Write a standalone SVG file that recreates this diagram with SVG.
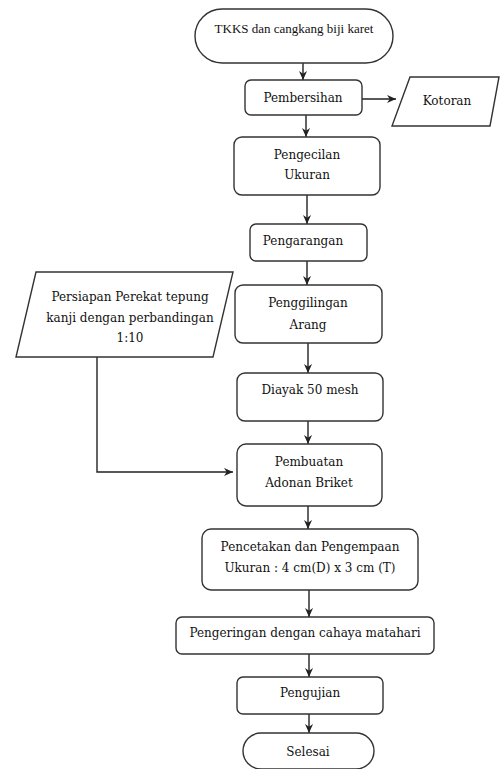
<svg xmlns="http://www.w3.org/2000/svg" width="500" height="769" viewBox="0 0 500 769">
<defs>
<marker id="ah" markerUnits="userSpaceOnUse" markerWidth="9" markerHeight="9" viewBox="0 0 10 10" refX="10" refY="5" orient="auto">
<path d="M0,0.5 L10,5 L0,9.5 L3,5 z" fill="#222"/>
</marker>
<style>
.box{fill:#fff;stroke:#333;stroke-width:1.4}
.t{font-family:"DejaVu Serif","Liberation Serif",serif;font-size:12px;fill:#111;text-anchor:middle}
.c{fill:none;stroke:#222;stroke-width:1.4;marker-end:url(#ah)}
</style>
</defs>
<rect width="500" height="769" fill="#fff"/>
<g id="connectors">
<line class="c" x1="303" y1="63" x2="303" y2="80"/>
<line class="c" x1="362" y1="99" x2="396" y2="99"/>
<line class="c" x1="306" y1="115" x2="306" y2="137"/>
<line class="c" x1="307" y1="195" x2="307" y2="224"/>
<line class="c" x1="307" y1="261" x2="307" y2="285"/>
<line class="c" x1="308" y1="343" x2="308" y2="373"/>
<line class="c" x1="308" y1="421" x2="308" y2="444"/>
<polyline class="c" points="97,357 97,472 233,472"/>
<line class="c" x1="308" y1="506" x2="308" y2="529"/>
<line class="c" x1="309" y1="590" x2="309" y2="617"/>
<line class="c" x1="309" y1="654" x2="309" y2="677"/>
<line class="c" x1="309" y1="714" x2="309" y2="733"/>
</g>
<g id="start">
<rect class="box" x="195" y="9" width="198" height="54" rx="27"/>
<text class="t" x="294" y="33" style="font-family:'Liberation Serif',serif;font-size:13px">TKKS dan cangkang biji karet</text>
</g>
<g id="pembersihan">
<rect class="box" x="245" y="80" width="117" height="35" rx="6"/>
<text class="t" x="303" y="102">Pembersihan</text>
</g>
<g id="kotoran">
<polygon class="box" points="410,77 499,77 490,126 392,126"/>
<text class="t" x="447" y="105">Kotoran</text>
</g>
<g id="pengecilan">
<rect class="box" x="234" y="137" width="146" height="58" rx="8"/>
<text class="t" x="307" y="159">Pengecilan</text>
<text class="t" x="307" y="179">Ukuran</text>
</g>
<g id="pengarangan">
<rect class="box" x="250" y="224" width="117" height="37" rx="6"/>
<text class="t" x="303" y="245">Pengarangan</text>
</g>
<g id="penggilingan">
<rect class="box" x="235" y="285" width="147" height="58" rx="8"/>
<text class="t" x="308" y="307">Penggilingan</text>
<text class="t" x="308" y="329">Arang</text>
</g>
<g id="persiapan">
<polygon class="box" points="36,272 233,272 213,357 16,357"/>
<text class="t" x="130" y="301">Persiapan Perekat tepung</text>
<text class="t" x="130" y="322">kanji dengan perbandingan</text>
<text class="t" x="130" y="342">1:10</text>
</g>
<g id="diayak">
<rect class="box" x="237" y="373" width="146" height="48" rx="8"/>
<text class="t" x="310" y="394">Diayak 50 mesh</text>
</g>
<g id="pembuatan">
<rect class="box" x="237" y="444" width="145" height="62" rx="9"/>
<text class="t" x="309" y="466">Pembuatan</text>
<text class="t" x="309" y="487">Adonan Briket</text>
</g>
<g id="pencetakan">
<rect class="box" x="202" y="529" width="216" height="61" rx="9"/>
<text class="t" x="310" y="551">Pencetakan dan Pengempaan</text>
<text class="t" x="310" y="572">Ukuran : 4 cm(D) x 3 cm (T)</text>
</g>
<g id="pengeringan">
<rect class="box" x="176" y="617" width="258" height="37" rx="6"/>
<text class="t" x="305" y="637">Pengeringan dengan cahaya matahari</text>
</g>
<g id="pengujian">
<rect class="box" x="237" y="677" width="146" height="37" rx="6"/>
<text class="t" x="310" y="697">Pengujian</text>
</g>
<g id="selesai">
<rect class="box" x="243" y="733" width="131" height="36" rx="18"/>
<text class="t" x="308" y="756">Selesai</text>
</g>
</svg>
